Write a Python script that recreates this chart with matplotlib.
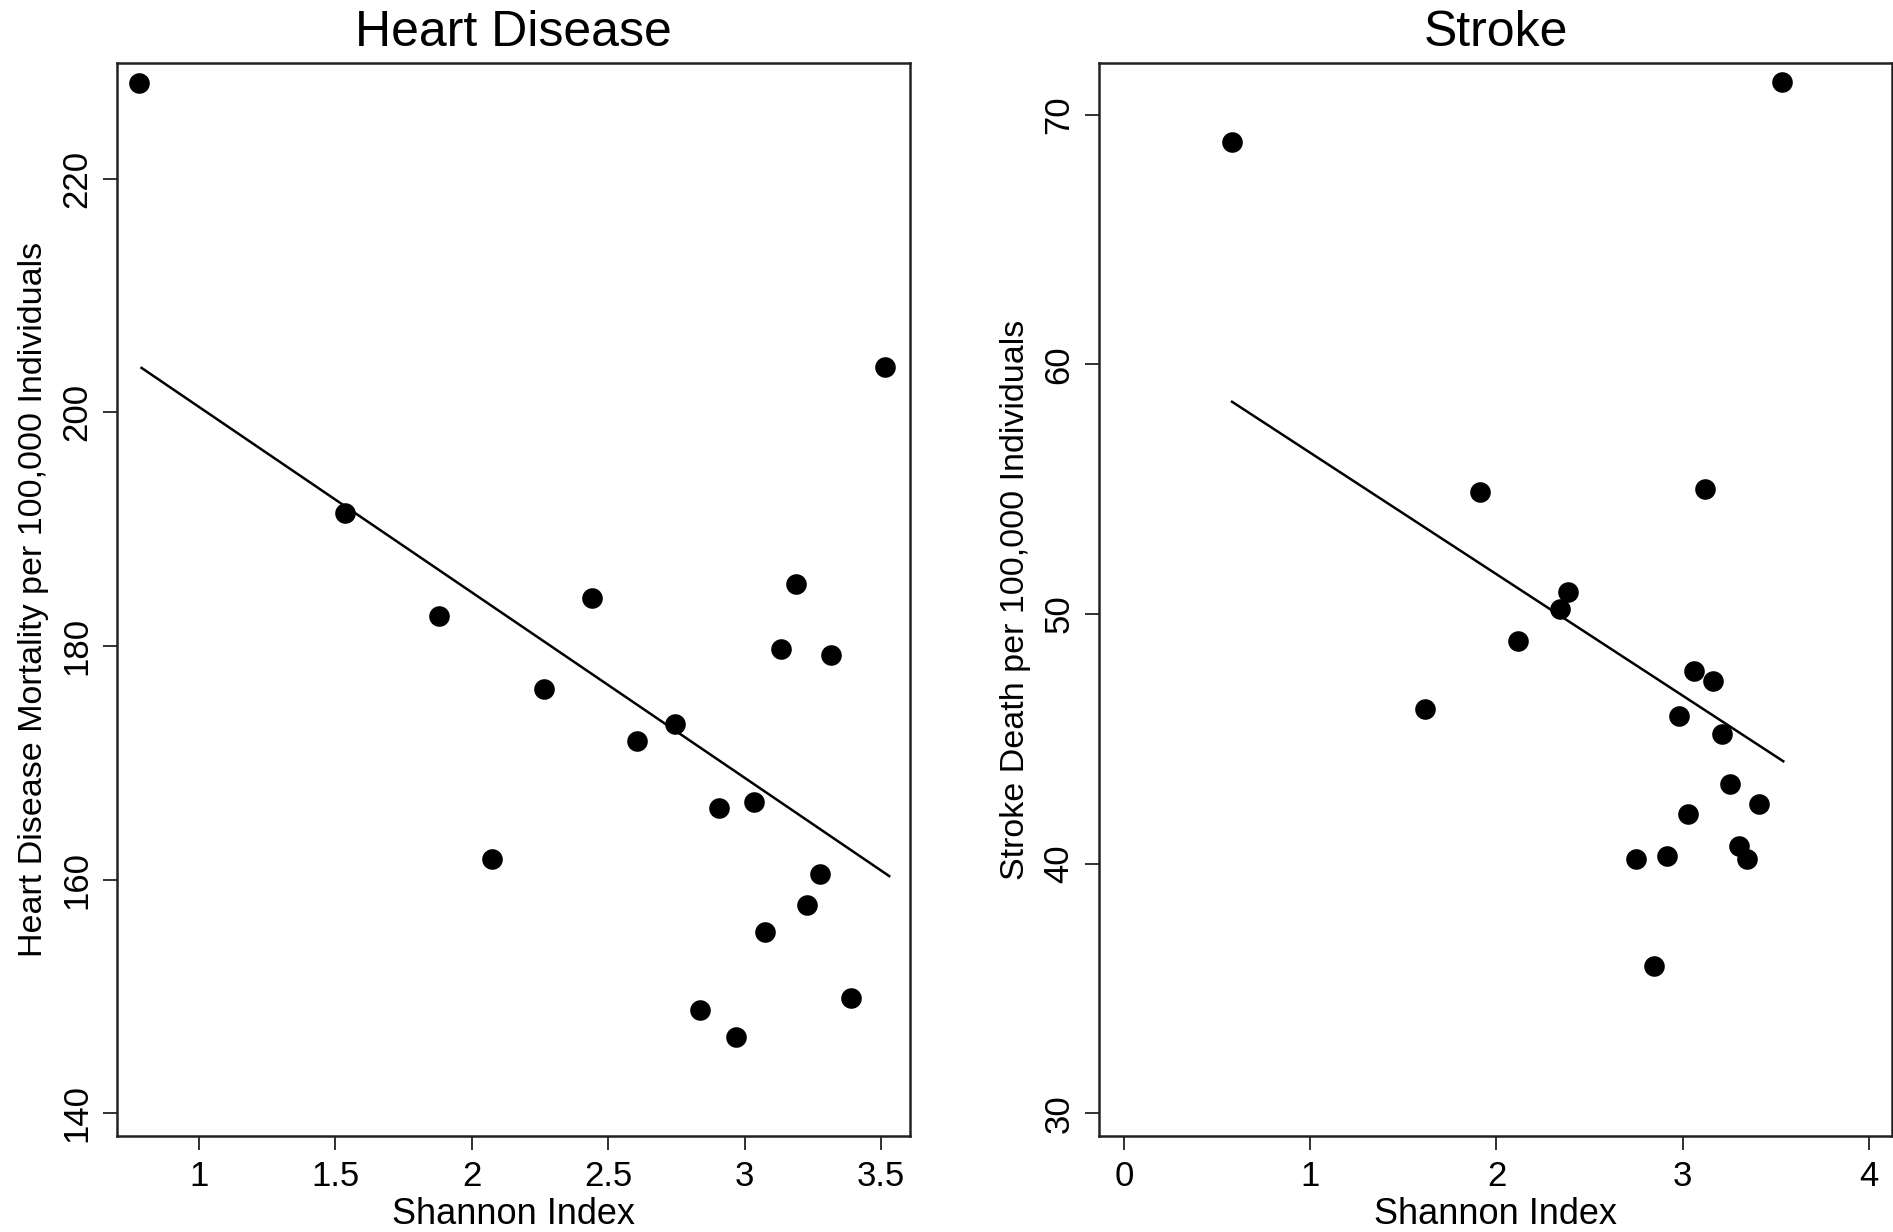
import matplotlib
matplotlib.use("Agg")
import matplotlib.pyplot as plt

plt.rcParams['font.family'] = ['Liberation Sans', 'DejaVu Sans']

# Heart disease panel
heart_x = [0.78, 1.535, 1.88, 2.075, 2.265, 2.44, 2.605, 2.745, 2.835, 2.905,
           2.97, 3.035, 3.075, 3.135, 3.19, 3.23, 3.275, 3.315, 3.39, 3.515]
heart_y = [228.2, 191.4, 182.6, 161.8, 176.3, 184.1, 171.9, 173.3, 148.8, 166.1,
           146.5, 166.6, 155.5, 179.7, 185.3, 157.8, 160.5, 179.2, 149.9, 203.9]
heart_fit_x = [0.79, 3.53]
heart_fit_y = [203.8, 160.3]

# Stroke panel
stroke_x = [0.58, 1.615, 1.91, 2.115, 2.34, 2.385, 2.75, 2.845, 2.915, 2.98,
            3.03, 3.06, 3.12, 3.165, 3.21, 3.255, 3.30, 3.345, 3.41, 3.535]
stroke_y = [68.9, 46.2, 54.9, 48.9, 50.2, 50.9, 40.2, 35.9, 40.3, 45.9,
            42.0, 47.7, 55.0, 47.3, 45.2, 43.2, 40.7, 40.2, 42.4, 71.3]
stroke_fit_x = [0.58, 3.54]
stroke_fit_y = [58.5, 44.1]

fig = plt.figure(figsize=(18.93, 12.32), dpi=100)
ax1 = fig.add_axes([0.0618, 0.0779, 0.4189, 0.871])
ax2 = fig.add_axes([0.5806, 0.0779, 0.4189, 0.871])

panels = [
    (ax1, heart_x, heart_y, heart_fit_x, heart_fit_y, "Heart Disease",
     "Heart Disease Mortality per 100,000 Individuals",
     [1, 1.5, 2, 2.5, 3, 3.5], ["1", "1.5", "2", "2.5", "3", "3.5"],
     [140, 160, 180, 200, 220], (0.70, 3.606), (138.05, 229.9)),
    (ax2, stroke_x, stroke_y, stroke_fit_x, stroke_fit_y, "Stroke",
     "Stroke Death per 100,000 Individuals",
     [0, 1, 2, 3, 4], ["0", "1", "2", "3", "4"],
     [30, 40, 50, 60, 70], (-0.134, 4.124), (29.09, 72.07)),
]

for ax, x, y, fx, fy, title, ylabel, xt, xtl, yt, xl, yl in panels:
    ax.scatter(x, y, s=220, color="black", zorder=3, linewidths=0)
    ax.plot(fx, fy, color="black", linewidth=1.8)
    ax.set_xlim(*xl)
    ax.set_ylim(*yl)
    ax.set_xticks(xt)
    ax.set_xticklabels(xtl)
    ax.set_yticks(yt)
    ax.set_yticklabels([str(v) for v in yt], rotation=90, va="center")
    ax.tick_params(axis="both", direction="out", length=10, width=1.3,
                   labelsize=25, pad=7, colors="#222222", labelcolor="black")
    for sp in ax.spines.values():
        sp.set_linewidth(1.8)
        sp.set_color("#222222")
    ax.set_title(title, fontsize=36, pad=12)
    ax.set_xlabel("Shannon Index", fontsize=26, labelpad=3)
    ax.set_ylabel(ylabel, fontsize=24.5, labelpad=8)

fig.savefig("out.png", dpi=100)
